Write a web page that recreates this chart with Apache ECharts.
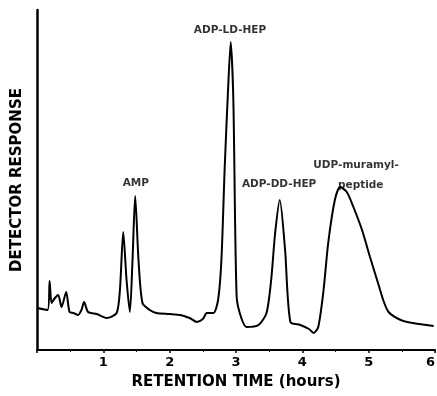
<!DOCTYPE html>
<html>
<head>
<meta charset="utf-8">
<script src="https://cdn.jsdelivr.net/npm/echarts@6/dist/echarts.min.js"></script>
<style>
  html, body { margin: 0; padding: 0; background: #fff; }
  #chart { width: 437px; height: 396px; }
</style>
</head>
<body>
<div id="chart"></div>
<script>
// retention time (hours) and detector response (arbitrary units)
const times = [0, 0.16, 0.19, 0.22, 0.27, 0.32, 0.37, 0.44, 0.49, 0.55, 0.62, 0.67, 0.71, 0.77, 0.9, 1.05, 1.2, 1.25, 1.30, 1.35, 1.40, 1.44, 1.48, 1.53, 1.59, 1.7, 1.8, 2.0, 2.16, 2.3, 2.41, 2.5, 2.56, 2.66, 2.73, 2.78, 2.83, 2.88, 2.92, 2.96, 3.01, 3.08, 3.16, 3.34, 3.46, 3.53, 3.59, 3.66, 3.74, 3.82, 3.97, 4.1, 4.17, 4.24, 4.32, 4.39, 4.49, 4.57, 4.67, 4.77, 4.9, 5.02, 5.15, 5.23, 5.30, 5.45, 5.58, 5.98];
const response = [42, 40, 69, 47, 52, 55, 43, 58, 38, 37, 35, 40, 48, 38, 36, 32, 37, 60, 118, 70, 38, 90, 154, 90, 47, 40, 37, 36, 35, 32, 28, 31, 37, 37, 50, 90, 183, 260, 308, 250, 53, 32, 23, 25, 37, 70, 117, 150, 100, 28, 25, 21, 17, 23, 60, 107, 150, 163, 158, 143, 120, 93, 65, 48, 38, 31, 28, 24];
const peakNames = ['AMP', 'ADP-LD-HEP', 'ADP-DD-HEP', 'UDP-muramyl-', 'peptide'];
const peakLabelPos = [[1.49, 167], [2.91, 320], [3.65, 166], [4.81, 185], [4.88, 165]];

const chart = echarts.init(document.getElementById('chart'));
const font = 'DejaVu Sans';

chart.setOption({
  animation: false,
  grid: { left: 37, right: 2, top: 10, bottom: 46, outerBoundsMode: 'none' },
  xAxis: {
    type: 'value',
    min: 0,
    max: 6,
    interval: 1,
    name: 'RETENTION TIME (hours)',
    nameLocation: 'middle',
    nameGap: 25,
    nameTextStyle: { color: '#000', fontFamily: font, fontWeight: 'bold', fontSize: 15 },
    axisLine: { lineStyle: { color: '#000', width: 2 } },
    axisTick: { show: true, length: 3, lineStyle: { color: '#000', width: 1.5 } },
    minorTick: { show: true, splitNumber: 2, length: 2, lineStyle: { color: '#000' } },
    splitLine: { show: false },
    axisLabel: {
      color: '#000', fontFamily: font, fontWeight: 'bold', fontSize: 13, margin: 6,
      alignMaxLabel: 'right',
      formatter: v => (v === 0 ? '' : String(v))
    }
  },
  yAxis: {
    type: 'value',
    min: 0,
    max: 340,
    name: 'DETECTOR RESPONSE',
    nameLocation: 'middle',
    nameGap: 12,
    nameTextStyle: { color: '#000', fontFamily: font, fontWeight: 'bold', fontSize: 15 },
    axisLine: { show: true, lineStyle: { color: '#000', width: 2.5 } },
    axisTick: { show: false },
    axisLabel: { show: false },
    splitLine: { show: false }
  },
  series: [
    {
      type: 'line',
      data: times.map((t, i) => [t, response[i]]),
      smooth: 0.25,
      showSymbol: false,
      lineStyle: { color: '#000', width: 2 }
    },
    {
      type: 'scatter',
      symbolSize: 0,
      silent: true,
      data: peakLabelPos.map((p, i) => ({ value: p, name: peakNames[i] })),
      label: {
        show: true,
        position: 'inside',
        formatter: p => p.name,
        color: '#000',
        fontFamily: font,
        fontWeight: 'bold',
        fontSize: 10.5
      }
    }
  ]
});
</script>
</body>
</html>
